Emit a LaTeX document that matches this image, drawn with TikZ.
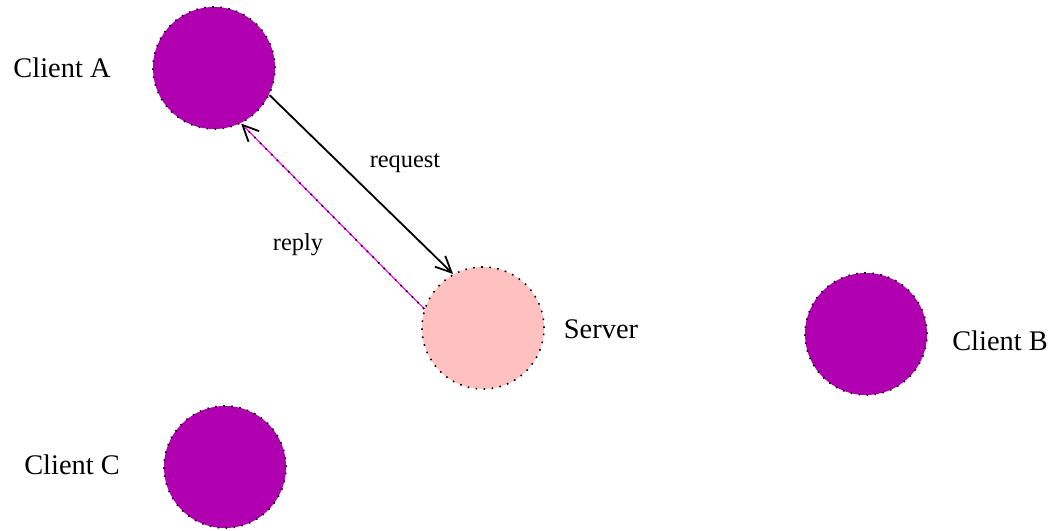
\documentclass[tikz,border=0pt]{standalone}
\usepackage{fontspec}
\setmainfont{Liberation Serif}
\usetikzlibrary{positioning,arrows.meta}

\definecolor{hostpurple}{HTML}{B000B0}
\definecolor{serverpink}{HTML}{FFC0C0}
\definecolor{replymagenta}{HTML}{FF00FF}

\tikzset{
	host/.style={circle, draw=black, line width=0.8pt, dash pattern=on 0.8pt off 3.2pt,
		fill=hostpurple, minimum size=61pt, inner sep=0pt},
	label/.style={font=\fontsize{14.2}{17}\selectfont, inner sep=0pt},
	msglabel/.style={font=\fontsize{12.2}{15}\selectfont, inner sep=0pt},
	barb/.style={-{Straight Barb[black,length=8pt,width=7.5pt,line width=0.9pt]}},
	dots/.style={line width=0.8pt, dash pattern=on 0.8pt off 3.2pt}
}

\begin{document}
\begin{tikzpicture}[x=0.5pt,y=-0.5pt]
		\useasboundingbox (0,0) rectangle (1053,530);

		% Hosts
		\node[host] (clientA) at (214,68) {};
		\node[host, fill=serverpink] (server) at (483,328) {};
		\node[host] (clientB) at (866,334) {};
		\node[host] (clientC) at (225,467) {};

		% Names
		\node[label] (clientA_name) at (62,68) {Client A};
		\node[label] (server_name) at (601,329) {Server};
		\node[label] (clientB_name) at (1000,341) {Client B};
		\node[label] (clientC_name) at (72,465) {Client C};

		% Messages
		\draw[barb, line width=0.9pt] (clientA.-26) -- (server.119);
		\draw[barb, replymagenta, line width=0.6pt] (server.162) -- (clientA.-64);
		\draw[dots, shorten >=4pt] (server.162) -- (clientA.-64);

		\node[msglabel] (request) at (405,163) {request};
		\node[msglabel] (reply) at (298,245) {reply};
	\end{tikzpicture}
\end{document}
